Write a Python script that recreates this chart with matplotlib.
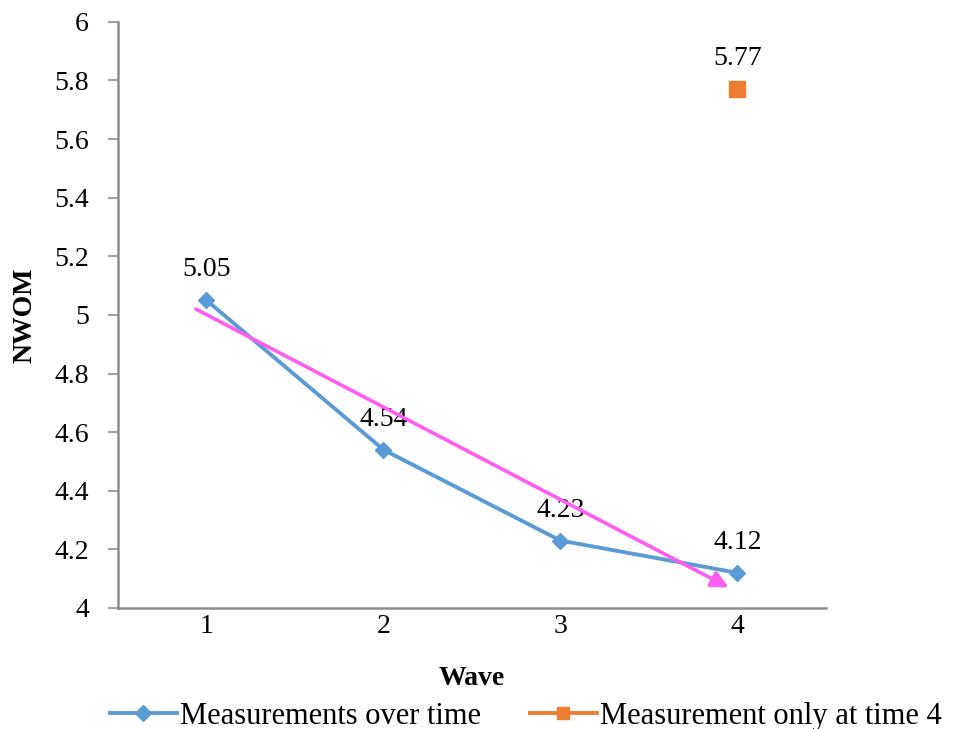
import matplotlib
matplotlib.use("Agg")
from matplotlib import pyplot as plt
from matplotlib.lines import Line2D

plt.rcParams['font.family'] = ['Liberation Serif', 'DejaVu Serif']

waves = [1, 2, 3, 4]
nwom = [5.05, 4.54, 4.23, 4.12]
only_wave = [4]
only_nwom = [5.77]
# hand drawn trend arrow (start, end) in data units
trend_x = [0.94, 3.95]
trend_y = [5.02, 4.07]

blue = '#5B9BD5'
orange = '#ED7D31'
pink = '#FF5CF2'

fig = plt.figure(figsize=(9.56, 7.29), dpi=100)
ax = fig.add_axes([0.1234, 0.166, 0.7406, 0.804])

ax.plot(waves, nwom, color=blue, lw=2.8, marker='D', ms=8, zorder=3)
ax.plot(only_wave, only_nwom, color=orange, lw=0, marker='s', ms=11, zorder=3)

ax.annotate('', xy=(trend_x[1], trend_y[1]), xytext=(trend_x[0], trend_y[0]),
            arrowprops=dict(arrowstyle='-|>,head_length=1.0,head_width=0.5',
                            color=pink, lw=2.6, shrinkA=0, shrinkB=0), zorder=4)

for x, y in zip(waves + only_wave, nwom + only_nwom):
    ax.annotate('%.2f' % y, (x, y), xytext=(0, 22), textcoords='offset points',
                ha='center', va='center', fontsize=20)

ax.set_xlim(0.5, 4.5)
ax.set_ylim(4, 6)
ax.set_xticks(waves)
ax.set_yticks([4 + 0.2 * i for i in range(11)])
ax.set_yticklabels(['4', '4.2', '4.4', '4.6', '4.8', '5', '5.2', '5.4', '5.6', '5.8', '6'])
ax.tick_params(axis='y', length=7, width=1.2, color='#8c8c8c', labelsize=20, pad=14)
ax.tick_params(axis='x', length=0, labelsize=20, pad=4)

for s in ['top', 'right']:
    ax.spines[s].set_visible(False)
for s in ['left', 'bottom']:
    ax.spines[s].set_color('#8c8c8c')
    ax.spines[s].set_linewidth(1.8)

ax.set_xlabel('Wave', fontsize=20, fontweight='bold', labelpad=20)
ax.set_ylabel('NWOM', fontsize=20, fontweight='bold', labelpad=12)

handles = [Line2D([], [], color=blue, lw=2.8, marker='D', ms=8),
           Line2D([], [], color=orange, lw=2.8, marker='s', ms=8)]
fig.legend(handles, ['Measurements over time', 'Measurement only at time 4'],
           loc='lower center', bbox_to_anchor=(0.55, -0.04), ncol=2, frameon=False,
           fontsize=22, handlelength=2.2, handletextpad=0.1, columnspacing=1.6)

fig.savefig('out.png', dpi=100)
